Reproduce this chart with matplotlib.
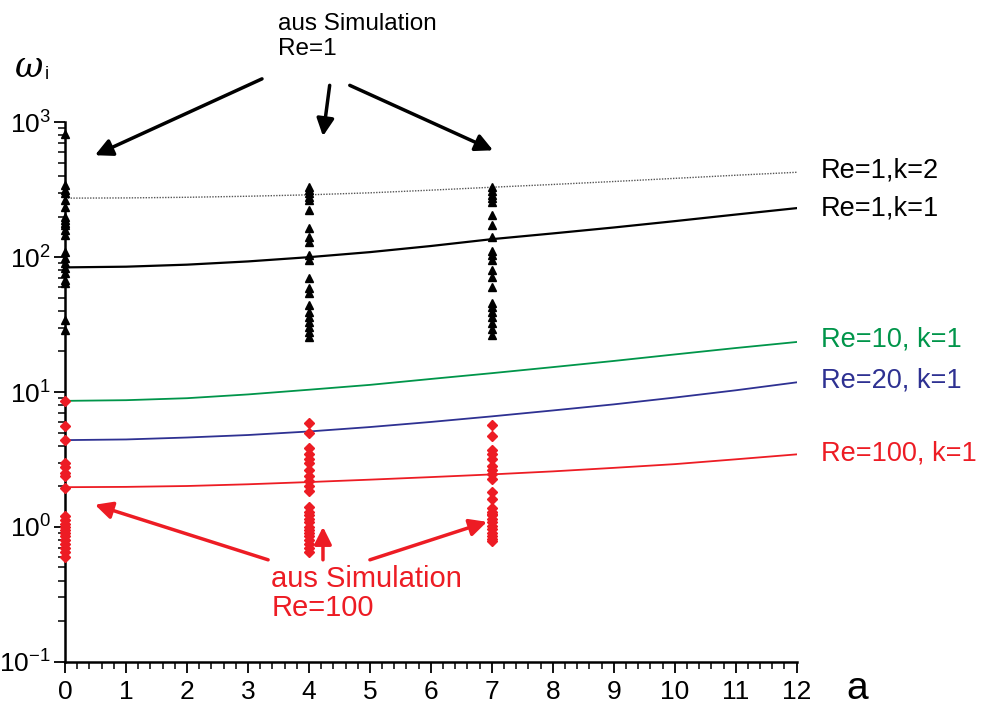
import numpy as np
import matplotlib
matplotlib.use("Agg")
import matplotlib.pyplot as plt

plt.rcParams['font.family'] = ['Liberation Sans Narrow', 'Liberation Sans', 'DejaVu Sans']
plt.rcParams['mathtext.default'] = 'regular'

# curves omega_i(a)
a = [0, 1, 2, 3, 4, 5, 6, 7, 8, 9, 10, 11, 12]
re1_k2 = [274, 275, 278, 283, 290, 300, 314, 330, 346, 364, 384, 405, 426]
re1_k1 = [84, 85, 88, 93, 100, 109, 121, 136, 150, 166, 185, 207, 231]
re10_k1 = [8.6, 8.7, 9.0, 9.6, 10.4, 11.3, 12.5, 13.8, 15.3, 17.0, 19.0, 21.2, 23.5]
re20_k1 = [4.4, 4.45, 4.6, 4.8, 5.1, 5.5, 6.0, 6.6, 7.3, 8.1, 9.1, 10.3, 11.8]
re100_k1 = [1.97, 1.98, 2.01, 2.07, 2.15, 2.24, 2.34, 2.45, 2.58, 2.74, 2.92, 3.17, 3.45]

# simulation points, Re=1
sim1_a0 = [815, 341, 314, 298, 264, 235, 198, 188, 179, 173, 158, 146, 109, 98, 91,
           83, 76, 68, 64, 34, 29]
sim1_a4 = [330, 313, 298, 279, 264, 223, 164, 141, 129, 103, 95, 70, 59, 54, 44, 39,
           36, 33, 30.5, 28, 25.5]
sim1_a7 = [330, 308, 288, 274, 256, 205, 173, 141, 112, 103, 95, 80, 71, 60, 46, 43,
           39, 36, 32.5, 29.5, 26.5]

# simulation points, Re=100
sim100_a0 = [8.6, 5.6, 4.4, 2.96, 2.8, 2.5, 2.4, 1.95, 1.2, 1.12, 1.05, 1.0, 0.95,
             0.9, 0.85, 0.8, 0.75, 0.7, 0.65, 0.6]
sim100_a4 = [5.9, 5.0, 3.85, 3.5, 3.2, 2.97, 2.64, 2.4, 2.2, 2.0, 1.85, 1.4, 1.3, 1.22,
             1.15, 1.08, 1.0, 0.95, 0.9, 0.85, 0.8, 0.75, 0.7, 0.65]
sim100_a7 = [5.7, 4.7, 3.7, 3.5, 3.2, 2.85, 2.64, 2.45, 2.27, 1.8, 1.6, 1.38, 1.3, 1.25,
             1.22, 1.15, 1.08, 1.02, 0.96, 0.9, 0.86, 0.82, 0.78]

green = '#00954A'
blue = '#2E3192'
red = '#ED1C24'

fig = plt.figure(figsize=(9.86, 7.07), dpi=100)
ax = fig.add_axes([0.066, 0.064, 0.742, 0.763])

ax.plot(a, re1_k2, color='#555555', lw=1, ls=(0, (1, 1)))
ax.plot(a, re1_k1, color='black', lw=1.6)
ax.plot(a, re10_k1, color=green, lw=1.3)
ax.plot(a, re20_k1, color=blue, lw=1.3)
ax.plot(a, re100_k1, color=red, lw=1.3)

for x, ys in [(0, sim1_a0), (4, sim1_a4), (7, sim1_a7)]:
    ax.plot([x] * len(ys), ys, ls='none', marker='^', ms=6, color='black', clip_on=False, zorder=5)
for x, ys in [(0, sim100_a0), (4, sim100_a4), (7, sim100_a7)]:
    ax.plot([x] * len(ys), ys, ls='none', marker='D', ms=5, color=red, mec=red, clip_on=False, zorder=5)

ax.set_yscale('log')
ax.set_xlim(0, 12)
ax.set_ylim(0.1, 1000)
ax.set_xticks(range(0, 13))
ax.set_xticks(np.arange(0, 12.01, 0.2), minor=True)
ax.spines['top'].set_visible(False)
ax.spines['right'].set_visible(False)
ax.spines['left'].set_linewidth(1.8)
ax.spines['bottom'].set_linewidth(1.8)
ax.tick_params(which='major', direction='out', length=8, width=1.3, labelsize=19)
ax.tick_params(which='minor', direction='out', length=5, width=1.1)
ax.tick_params(axis='y', pad=2)
ax.tick_params(axis='x', pad=5)

ax.text(-0.6, 2550, 'ω', fontsize=25, style='italic', family='DejaVu Serif',
        ha='center', va='center')
ax.text(-0.33, 2250, 'i', fontsize=13, ha='left', va='center')
ax.text(13.0, 0.085, 'a', fontsize=28, ha='center', va='top')

lab = dict(fontsize=19.5, ha='left', va='center', clip_on=False)
ax.text(12.4, 440, 'Re=1,k=2', color='black', **lab)
ax.text(12.4, 228, 'Re=1,k=1', color='black', **lab)
ax.text(12.4, 24.5, 'Re=10, k=1', color=green, **lab)
ax.text(12.4, 12.2, 'Re=20, k=1', color=blue, **lab)
ax.text(12.4, 3.5, 'Re=100, k=1', color=red, **lab)

ax.text(3.5, 6500, 'aus Simulation\nRe=1', fontsize=17.5, ha='left', va='top', linespacing=1.2)
ax.text(3.38, 0.52, 'aus Simulation\nRe=100', fontsize=21, ha='left', va='top', color=red,
        linespacing=1.05)

def arrow(tail, head, col):
    ax.annotate('', xy=head, xytext=tail, annotation_clip=False,
                arrowprops=dict(arrowstyle='-|>', color=col, lw=2.5, mutation_scale=26,
                                shrinkA=0, shrinkB=0))

arrow((3.23, 2100), (0.49, 570), 'black')
arrow((4.34, 1880), (4.23, 790), 'black')
arrow((4.67, 1880), (7.02, 620), 'black')
arrow((3.33, 0.57), (0.49, 1.46), red)
arrow((4.23, 0.57), (4.23, 1.0), red)
arrow((5.0, 0.57), (6.92, 1.09), red)

fig.savefig('out.png', dpi=100)
